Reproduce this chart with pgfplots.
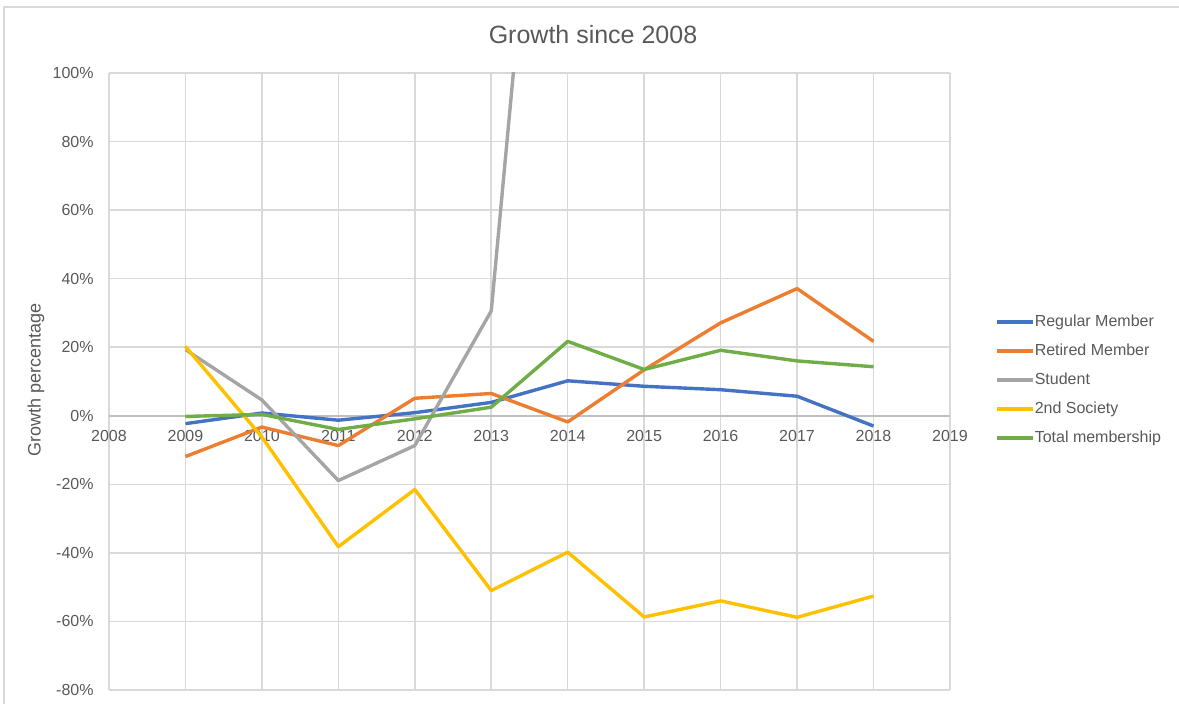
\documentclass[border=0pt]{standalone}
\usepackage{fontspec}
\setmainfont{Liberation Sans}
\usepackage{pgfplots}
\pgfplotsset{compat=1.18}
\definecolor{cblue}{HTML}{4472C4}
\definecolor{corange}{HTML}{ED7D31}
\definecolor{cgray}{HTML}{A5A5A5}
\definecolor{cyellow}{HTML}{FFC000}
\definecolor{cgreen}{HTML}{70AD47}
\definecolor{gridc}{HTML}{D9D9D9}
\definecolor{axisc}{HTML}{BFBFBF}
\definecolor{txt}{HTML}{595959}
\begin{document}
\begin{tikzpicture}
\useasboundingbox (0,0) rectangle (589.5pt,352pt);
% chart frame (cropped on right and bottom)
\draw[gridc, line width=0.75pt] (2pt,0pt) -- (2pt,348.5pt) -- (589.5pt,348.5pt);
\node[text=txt, font=\fontsize{12.5}{15}\selectfont] at (296.5pt,334.5pt) {Growth since 2008};
\node[text=txt, font=\fontsize{9}{11}\selectfont, rotate=90] at (18pt,162pt) {Growth percentage};
\begin{axis}[
    at={(54.5pt,7pt)}, anchor=south west,
    width=420.5pt, height=308.5pt, scale only axis,
    xmin=2008, xmax=2019, ymin=-80, ymax=100,
    xtick={2008,...,2019},
    xticklabels={2008,2009,2010,2011,2012,2013,2014,2015,2016,2017,2018,2019},
    ytick={-80,-60,-40,-20,0,20,40,60,80,100},
    yticklabels={-80\%,-60\%,-40\%,-20\%,0\%,20\%,40\%,60\%,80\%,100\%},
    axis x line=middle, axis y line=left,
    x axis line style={-, axisc, line width=0.75pt},
    y axis line style={draw=none},
    hide obscured x ticks=false, hide obscured y ticks=false,
    major tick length=0pt,
    grid=major,
    major grid style={gridc, line width=0.75pt},
    ticklabel style={font=\fontsize{8}{9.6}\selectfont, text=txt},
    xticklabel style={anchor=north, inner sep=0pt, yshift=-7pt},
    yticklabel style={anchor=east, inner sep=0pt, xshift=-7.5pt},
    every axis plot/.append style={line width=1.7pt, line join=round},
    legend image code/.code={\draw[#1] (0pt,0pt) -- (18pt,0pt);},
    legend cell align=left,
    legend style={at={(1.0535,0.5024)}, anchor=west, draw=none, fill=none,
        inner sep=0pt, row sep=6.7pt,
        font=\fontsize{8}{9.6}\selectfont, text=txt,
        nodes={inner sep=0pt, text height=6pt, text depth=1.8pt},
        /tikz/every even column/.append style={column sep=2.5pt}},
]
\addplot[cblue] coordinates {(2009,-2.3) (2010,0.8) (2011,-1.3) (2012,0.9) (2013,3.9) (2014,10.2) (2015,8.6) (2016,7.6) (2017,5.7) (2018,-3.0)};
\addlegendentry{Regular Member}
\addplot[corange] coordinates {(2009,-11.9) (2010,-3.3) (2011,-8.7) (2012,5.1) (2013,6.5) (2014,-1.8) (2015,13.4) (2016,27.1) (2017,37.1) (2018,21.7)};
\addlegendentry{Retired Member}
\addplot[cgray] coordinates {(2009,19.3) (2010,4.6) (2011,-18.9) (2012,-8.7) (2013,30.6) (2014,271) (2015,280) (2016,300) (2017,320) (2018,310)};
\addlegendentry{Student}
\addplot[cyellow] coordinates {(2009,20.2) (2010,-6.2) (2011,-38.2) (2012,-21.5) (2013,-51.0) (2014,-39.8) (2015,-58.7) (2016,-54.0) (2017,-58.8) (2018,-52.6)};
\addlegendentry{2nd Society}
\addplot[cgreen] coordinates {(2009,-0.2) (2010,0.4) (2011,-4.0) (2012,-0.9) (2013,2.5) (2014,21.7) (2015,13.5) (2016,19.1) (2017,16.0) (2018,14.3)};
\addlegendentry{Total membership}
\end{axis}
\end{tikzpicture}
\end{document}
